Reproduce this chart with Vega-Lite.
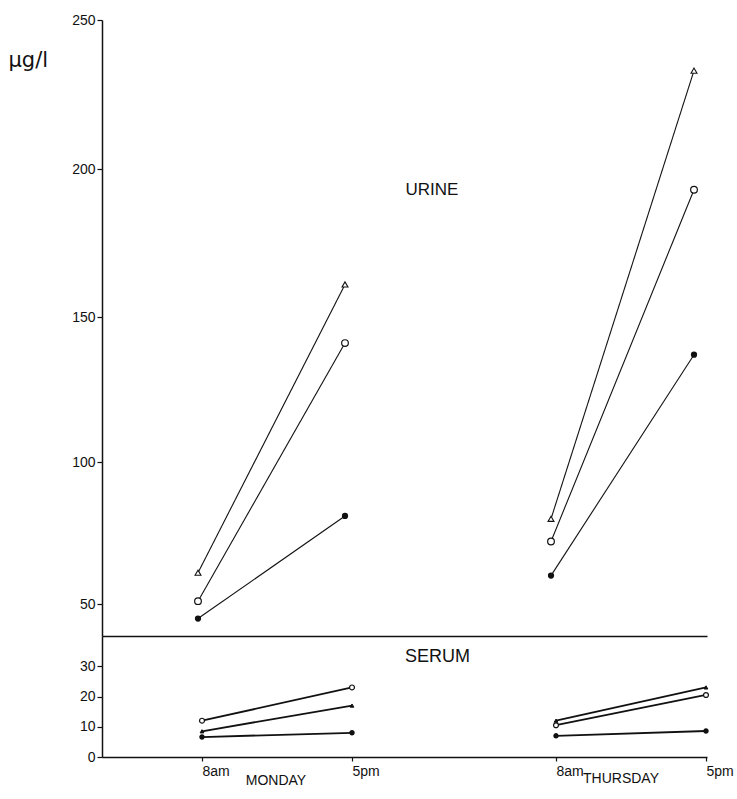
{
  "$schema": "https://vega.github.io/schema/vega-lite/v6.json",
  "background": "white",
  "padding": {"top": 13, "left": 8, "right": 5, "bottom": 5},
  "spacing": 0,
  "datasets": {
    "urine": [
      {"series": "triangle", "day": "Monday", "hour": 8, "value": 61},
      {"series": "triangle", "day": "Monday", "hour": 17, "value": 161},
      {"series": "triangle", "day": "Thursday", "hour": 80, "value": 80},
      {"series": "triangle", "day": "Thursday", "hour": 89, "value": 233},
      {"series": "circle", "day": "Monday", "hour": 8, "value": 51},
      {"series": "circle", "day": "Monday", "hour": 17, "value": 141},
      {"series": "circle", "day": "Thursday", "hour": 80, "value": 72},
      {"series": "circle", "day": "Thursday", "hour": 89, "value": 193},
      {"series": "dot", "day": "Monday", "hour": 8, "value": 45},
      {"series": "dot", "day": "Monday", "hour": 17, "value": 81},
      {"series": "dot", "day": "Thursday", "hour": 80, "value": 60},
      {"series": "dot", "day": "Thursday", "hour": 89, "value": 137}
    ],
    "serum": [
      {"series": "triangle", "day": "Monday", "hour": 8, "value": 8.5},
      {"series": "triangle", "day": "Monday", "hour": 17, "value": 17},
      {"series": "triangle", "day": "Thursday", "hour": 80, "value": 12},
      {"series": "triangle", "day": "Thursday", "hour": 89, "value": 23},
      {"series": "circle", "day": "Monday", "hour": 8, "value": 12},
      {"series": "circle", "day": "Monday", "hour": 17, "value": 23},
      {"series": "circle", "day": "Thursday", "hour": 80, "value": 10.5},
      {"series": "circle", "day": "Thursday", "hour": 89, "value": 20.5},
      {"series": "dot", "day": "Monday", "hour": 8, "value": 6.6},
      {"series": "dot", "day": "Monday", "hour": 17, "value": 8},
      {"series": "dot", "day": "Thursday", "hour": 80, "value": 7},
      {"series": "dot", "day": "Thursday", "hour": 89, "value": 8.6}
    ],
    "labels": [
      {"panel": "urine", "label": "URINE", "hour": 43.6, "value": 193},
      {"panel": "serum", "label": "SERUM", "hour": 43.4, "value": 33},
      {"panel": "day", "label": "MONDAY", "hour": 12.44, "value": -7.9},
      {"panel": "day", "label": "THURSDAY", "hour": 83.9, "value": -7.2}
    ]
  },
  "vconcat": [
    {
      "width": 605,
      "height": 616,
      "encoding": {
        "x": {
          "field": "hour",
          "type": "quantitative",
          "scale": {"domain": [2, 8, 17, 80, 89, 90], "range": [0, 96, 243, 449, 592, 605], "nice": false, "zero": false},
          "axis": {"labels": false, "ticks": false, "title": null, "domainWidth": 1.3}
        },
        "y": {
          "field": "value",
          "type": "quantitative",
          "scale": {"domain": [39, 50, 100, 150, 200, 250], "range": [616, 584, 442, 297, 149, 0], "nice": false, "zero": false},
          "axis": {
            "values": [50, 100, 150, 200, 250],
            "title": "μg/l",
            "titleAngle": 0,
            "titleX": -94,
            "titleY": 46,
            "titleAlign": "left",
            "titleBaseline": "alphabetic",
            "titleFont": "DejaVu Sans",
            "titleFontSize": 21,
            "titleFontWeight": "normal",
            "tickSize": 5,
            "labelPadding": 2
          }
        }
      },
      "layer": [
        {
          "data": {"name": "urine"},
          "mark": {"type": "line", "color": "#111", "strokeWidth": 1.1},
          "encoding": {"detail": [{"field": "series"}, {"field": "day"}]}
        },
        {
          "data": {"name": "urine"},
          "transform": [{"filter": "datum.series == 'triangle'"}],
          "mark": {"type": "point", "shape": "triangle-up", "filled": true, "fill": "white", "stroke": "#111", "strokeWidth": 1.1, "size": 35, "opacity": 1}
        },
        {
          "data": {"name": "urine"},
          "transform": [{"filter": "datum.series == 'circle'"}],
          "mark": {"type": "point", "shape": "circle", "filled": true, "fill": "white", "stroke": "#111", "strokeWidth": 1.2, "size": 45, "opacity": 1}
        },
        {
          "data": {"name": "urine"},
          "transform": [{"filter": "datum.series == 'dot'"}],
          "mark": {"type": "point", "shape": "circle", "filled": true, "fill": "#111", "stroke": "#111", "size": 18, "opacity": 1}
        },
        {
          "data": {"name": "labels"},
          "transform": [{"filter": "datum.panel == 'urine'"}],
          "mark": {"type": "text", "font": "Liberation Sans", "fontSize": 17, "color": "#111", "baseline": "middle", "align": "center"},
          "encoding": {"text": {"field": "label"}}
        }
      ]
    },
    {
      "width": 605,
      "height": 121,
      "encoding": {
        "x": {
          "field": "hour",
          "type": "quantitative",
          "scale": {"domain": [2, 8, 17, 80, 89, 90], "range": [0, 100, 250, 454, 604, 605], "nice": false, "zero": false},
          "axis": {
            "values": [8, 17, 80, 89],
            "labelExpr": "datum.value % 24 == 8 ? '8am' : '5pm'",
            "labelAlign": "left",
            "labelOverlap": false,
            "labelFlush": false,
            "labelBound": false,
            "tickSize": 4,
            "labelPadding": 3,
            "title": null,
            "domainWidth": 1.5
          }
        },
        "y": {
          "field": "value",
          "type": "quantitative",
          "scale": {"domain": [0, 40], "nice": false, "zero": false},
          "axis": {"values": [0, 10, 20, 30], "title": null, "tickSize": 5, "labelPadding": 2}
        }
      },
      "layer": [
        {
          "data": {"name": "serum"},
          "mark": {"type": "line", "color": "#111", "strokeWidth": 1.8},
          "encoding": {"detail": [{"field": "series"}, {"field": "day"}]}
        },
        {
          "data": {"name": "serum"},
          "transform": [{"filter": "datum.series == 'triangle'"}],
          "mark": {"type": "point", "shape": "triangle-up", "filled": true, "fill": "#111", "stroke": "#111", "strokeWidth": 1, "size": 14, "opacity": 1}
        },
        {
          "data": {"name": "serum"},
          "transform": [{"filter": "datum.series == 'circle'"}],
          "mark": {"type": "point", "shape": "circle", "filled": true, "fill": "white", "stroke": "#111", "strokeWidth": 1.2, "size": 24, "opacity": 1}
        },
        {
          "data": {"name": "serum"},
          "transform": [{"filter": "datum.series == 'dot'"}],
          "mark": {"type": "point", "shape": "circle", "filled": true, "fill": "#111", "stroke": "#111", "size": 12, "opacity": 1}
        },
        {
          "data": {"name": "labels"},
          "transform": [{"filter": "datum.panel == 'serum'"}],
          "mark": {"type": "text", "font": "Liberation Sans", "fontSize": 18, "color": "#111", "baseline": "middle", "align": "center"},
          "encoding": {"text": {"field": "label"}}
        },
        {
          "data": {"name": "labels"},
          "transform": [{"filter": "datum.panel == 'day'"}],
          "mark": {"type": "text", "font": "Liberation Sans", "fontSize": 14, "color": "#111", "baseline": "middle", "align": "center"},
          "encoding": {"text": {"field": "label"}}
        }
      ]
    }
  ],
  "config": {
    "view": {"stroke": null},
    "axis": {
      "grid": false,
      "domainColor": "#111",
      "tickColor": "#111",
      "labelColor": "#111",
      "titleColor": "#111",
      "labelFont": "Liberation Sans",
      "labelFontSize": 14,
      "domainWidth": 1.5,
      "tickWidth": 1.2
    }
  }
}
